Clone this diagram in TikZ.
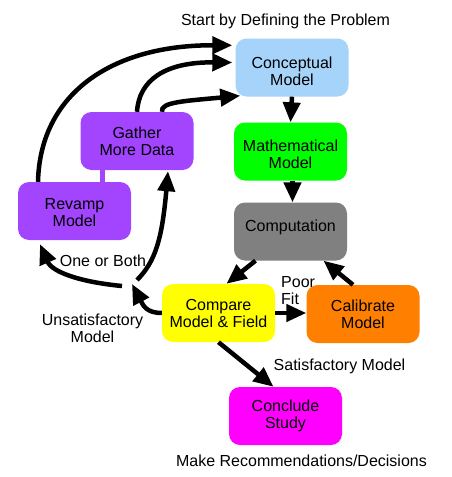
\documentclass[tikz,border=0pt]{standalone}
\usepackage{fontspec}
\setmainfont{Liberation Sans}
\usetikzlibrary{arrows.meta}
\definecolor{cblue}{RGB}{166,211,250}
\definecolor{cgreen}{RGB}{0,255,0}
\definecolor{cgray}{RGB}{128,128,128}
\definecolor{cpurple}{RGB}{163,68,255}
\definecolor{cyellow}{RGB}{255,255,0}
\definecolor{corange}{RGB}{255,128,0}
\definecolor{cmagenta}{RGB}{255,0,255}
\newcommand{\upstrut}[1]{\rule{0pt}{#1}}
\begin{document}
\begin{tikzpicture}[x=1pt,y=-1pt,
  box/.style={rounded corners=11pt, minimum width=113pt, minimum height=58pt,
    inner sep=0pt, align=center, font=\fontsize{16}{17}\selectfont},
  lbl/.style={font=\fontsize{16}{17}\selectfont, inner sep=0pt, align=center},
  arr/.style={line width=4.5pt, -{Triangle[length=20pt,width=17pt]}},
]
\useasboundingbox (0,0) rectangle (451,477);

% boxes
\node[box, fill=cblue]    (concept)  at (292,67.5)  {\upstrut{18.7pt}Conceptual\\Model};
\node[box, fill=cgreen]   (math)     at (290.5,151.5) {\upstrut{17.7pt}Mathematical\\Model};
\node[box, fill=cgray, text height=11.7pt, text depth=11.4pt] (comp) at (290.5,231.5) {Computation};
\node[box, fill=cpurple]  (gather)   at (137,141)   {Gather\\More Data};
\node[box, fill=cpurple]  (revamp)   at (74.5,211)  {\upstrut{13.7pt}Revamp\\Model};
\node[box, fill=cyellow]  (compare)  at (218.5,313) {Compare\\Model \& Field};
\node[box, fill=corange]  (calib)    at (363,314)   {Calibrate\\Model};
\node[box, fill=cmagenta] (conclude) at (285.5,416) {Conclude\\Study};

% link between purple boxes
\draw[cpurple, line width=5pt] ([xshift=-34.5pt]gather.south) -- ([xshift=28pt]revamp.north);

% labels
\node[lbl, anchor=base] (start) at (285.5,25.5) {Start by Defining the Problem};
\node[lbl, anchor=base] (oneboth) at (103,266) {One or Both};
\node[lbl] (unsat) at (92.5,328.5) {Unsatisfactory\\Model};
\node[lbl, anchor=base west] (poor) at (281,287) {Poor};
\node[lbl, anchor=base west] (fit) at (281,304) {Fit};
\node[lbl, anchor=base] (sat) at (339.5,370) {Satisfactory Model};
\node[lbl, anchor=base] (make) at (301.5,466) {Make Recommendations/Decisions};

% junction points
\coordinate (j1) at (132,284);
\coordinate (j2) at (122,286);
\coordinate (j3) at (137,280);

% straight arrows
\draw[arr] (concept.south) -- (math.north);
\draw[arr] ([xshift=2pt]math.south) -- ([xshift=2pt]comp.north);
\draw[arr] ([xshift=-35pt]comp.south) -- ([xshift=8pt]compare.north);
\draw[arr] (compare.east) -- (calib.west |- compare.east);
\draw[arr] ([xshift=-10pt]calib.north) -- ([xshift=33pt]comp.south);
\draw[arr] (compare.south) -- ([xshift=-12pt]conclude.north);

% curved arrows
\draw[arr] (compare.west) .. controls (146,313) and (143,305) .. (j1);
\draw[arr] (j2) .. controls (80,282) and (52,272) .. ([xshift=-34.5pt,yshift=-4pt]revamp.south);
\draw[arr] (j3) .. controls (155,262) and (162,240) .. ([xshift=31pt,yshift=-1pt]gather.south);
\draw[arr] ([xshift=-36.5pt]revamp.north) .. controls (40,95) and (110,45) .. ([xshift=-3pt,yshift=-7pt]concept.north west);
\draw[arr] (gather.north) .. controls (139,80) and (165,62) .. ([xshift=-3pt,yshift=5pt]concept.west);
\draw[arr] ([xshift=25pt]gather.north) .. controls (160,102) and (185,101) .. ([xshift=5pt,yshift=1pt]concept.south west);
\end{tikzpicture}
\end{document}
